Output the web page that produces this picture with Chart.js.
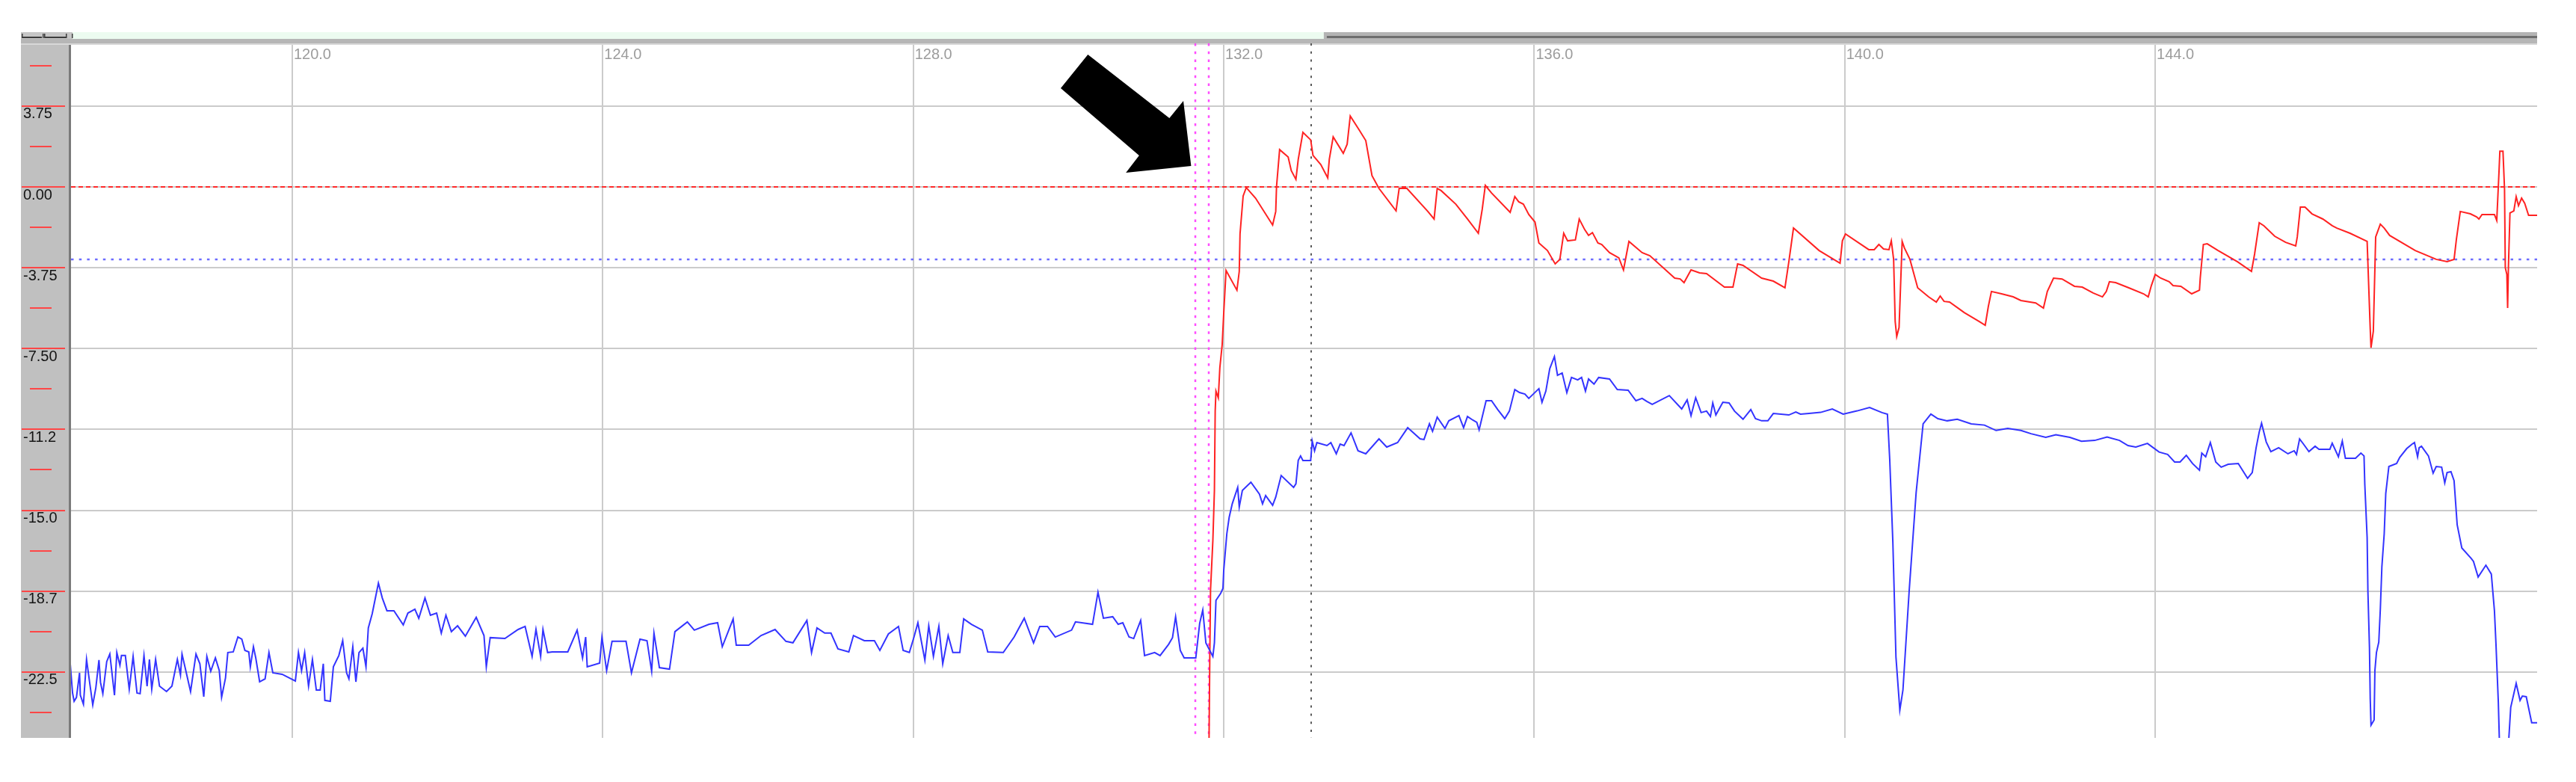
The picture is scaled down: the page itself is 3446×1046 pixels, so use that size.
<!DOCTYPE html>
<html>
<head>
<meta charset="utf-8">
<title>Trace</title>
<style>
  html, body { margin: 0; padding: 0; background: #ffffff; }
  #wrap { position: relative; width: 3446px; height: 1046px; }
  canvas { display: block; }
</style>
</head>
<body>
<div id="wrap"><canvas id="trace" width="3446" height="1046"></canvas></div>
<script src="https://cdn.jsdelivr.net/npm/chart.js@4.4.1/dist/chart.umd.min.js"></script>
<script>
'use strict';

// ─────────────────────────────────────────────
// 1. DATA
// ─────────────────────────────────────────────
const xTicks      = [120, 124, 128, 132, 136, 140, 144];
const yTicks      = [3.75, 0, -3.75, -7.5, -11.25, -15, -18.75, -22.5];
const yTickLabels = ['3.75', '0.00', '-3.75', '-7.50', '-11.2', '-15.0', '-18.7', '-22.5'];
const yMinorTicks = [5.625, 1.875, -1.875, -5.625, -9.375, -13.125, -16.875, -20.625, -24.375];

const xRange = [117.15, 148.92];
const yRange = [-25.56, 6.59];

const redLevel    = 0;               // red dashed reference
const blueLevel   = -3.36;           // blue dotted reference
const cursorLines = [131.63, 131.81]; // magenta cursors
const markerLine  = 133.13;          // grey dotted marker

// blue trace [x, y]
const bluePoints = [
  [117.14,-22.12],[117.17,-23.48],[117.19,-23.86],[117.22,-23.68],[117.26,-22.54],[117.27,-23.58],
  [117.31,-24.00],[117.35,-21.92],[117.39,-22.99],[117.43,-24.03],[117.47,-23.23],[117.51,-21.95],
  [117.53,-22.99],[117.56,-23.51],[117.61,-22.02],[117.65,-21.67],[117.71,-23.58],[117.74,-21.60],
  [117.78,-22.19],[117.80,-21.74],[117.85,-21.74],[117.90,-23.30],[117.95,-21.78],[118.00,-23.48],
  [118.04,-23.51],[118.09,-21.74],[118.13,-23.16],[118.16,-21.92],[118.19,-23.30],[118.24,-21.92],
  [118.29,-23.16],[118.38,-23.41],[118.45,-23.16],[118.52,-21.92],[118.56,-22.64],[118.58,-21.67],
  [118.62,-22.30],[118.69,-23.41],[118.76,-21.67],[118.81,-22.12],[118.86,-23.65],[118.90,-21.78],
  [118.95,-22.47],[119.01,-21.85],[119.06,-22.44],[119.09,-23.68],[119.14,-22.78],[119.17,-21.60],
  [119.24,-21.57],[119.30,-20.88],[119.35,-20.98],[119.39,-21.50],[119.44,-21.57],[119.46,-22.26],
  [119.50,-21.33],[119.53,-21.85],[119.58,-22.96],[119.65,-22.82],[119.70,-21.60],[119.75,-22.54],
  [119.87,-22.61],[120.04,-22.92],[120.08,-21.60],[120.12,-22.44],[120.16,-21.60],[120.21,-23.16],
  [120.26,-21.92],[120.31,-23.34],[120.36,-23.34],[120.40,-22.12],[120.42,-23.82],[120.49,-23.86],
  [120.53,-22.26],[120.60,-21.74],[120.65,-21.05],[120.70,-22.54],[120.73,-22.82],[120.78,-21.33],
  [120.82,-22.96],[120.86,-21.60],[120.91,-21.40],[120.95,-22.26],[120.98,-20.46],[121.03,-19.80],
  [121.11,-18.38],[121.16,-19.07],[121.22,-19.66],[121.31,-19.66],[121.43,-20.32],[121.49,-19.77],
  [121.58,-19.59],[121.63,-20.01],[121.71,-19.07],[121.78,-19.87],[121.86,-19.77],[121.92,-20.70],
  [121.98,-19.87],[122.05,-20.63],[122.13,-20.36],[122.23,-20.84],[122.37,-19.97],[122.47,-20.81],
  [122.50,-22.26],[122.55,-20.91],[122.74,-20.95],[122.91,-20.53],[123.00,-20.39],[123.09,-21.78],
  [123.14,-20.53],[123.20,-21.78],[123.23,-20.53],[123.29,-21.60],[123.35,-21.57],[123.55,-21.57],
  [123.67,-20.56],[123.74,-21.85],[123.78,-20.88],[123.80,-22.26],[123.96,-22.09],[123.99,-20.88],
  [124.05,-22.44],[124.12,-21.08],[124.30,-21.08],[124.37,-22.54],[124.48,-20.98],[124.57,-21.05],
  [124.63,-22.47],[124.66,-20.70],[124.73,-22.30],[124.86,-22.37],[124.93,-20.63],[125.09,-20.18],
  [125.18,-20.56],[125.37,-20.29],[125.48,-20.22],[125.54,-21.33],[125.68,-20.04],[125.72,-21.26],
  [125.88,-21.26],[126.04,-20.81],[126.22,-20.53],[126.36,-21.08],[126.45,-21.15],[126.63,-20.11],
  [126.69,-21.60],[126.76,-20.46],[126.86,-20.70],[126.94,-20.70],[127.03,-21.43],[127.17,-21.57],
  [127.23,-20.81],[127.37,-21.05],[127.50,-21.05],[127.57,-21.50],[127.68,-20.74],[127.81,-20.39],
  [127.87,-21.50],[127.95,-21.60],[128.01,-20.88],[128.06,-20.22],[128.15,-21.95],[128.20,-20.36],
  [128.26,-21.78],[128.33,-20.39],[128.38,-22.12],[128.45,-20.81],[128.51,-21.60],[128.60,-21.60],
  [128.65,-20.04],[128.75,-20.29],[128.89,-20.56],[128.96,-21.57],[129.16,-21.60],[129.30,-20.88],
  [129.43,-20.01],[129.55,-21.15],[129.63,-20.39],[129.73,-20.39],[129.83,-20.88],[130.04,-20.56],
  [130.09,-20.18],[130.31,-20.29],[130.38,-18.80],[130.45,-20.01],[130.57,-19.94],[130.64,-20.29],
  [130.70,-20.22],[130.78,-20.88],[130.84,-20.95],[130.93,-20.11],[130.98,-21.74],[131.11,-21.60],
  [131.18,-21.74],[131.29,-21.22],[131.34,-20.91],[131.38,-19.94],[131.44,-21.50],[131.49,-21.85],
  [131.64,-21.85],[131.69,-20.25],[131.73,-19.63],[131.77,-21.15],[131.84,-21.64],[131.86,-21.78],
  [131.88,-21.15],[131.90,-19.18],[131.96,-18.86],[131.99,-18.62],[132.00,-17.79],[132.04,-16.09],
  [132.07,-15.33],[132.11,-14.70],[132.18,-13.94],[132.20,-14.84],[132.24,-14.08],[132.35,-13.70],
  [132.46,-14.25],[132.50,-14.70],[132.54,-14.32],[132.63,-14.77],[132.67,-14.39],[132.74,-13.39],
  [132.90,-13.94],[132.93,-13.77],[132.96,-12.69],[132.99,-12.48],[133.02,-12.69],[133.12,-12.69],
  [133.14,-11.79],[133.17,-12.24],[133.20,-11.86],[133.33,-12.00],[133.38,-11.86],[133.45,-12.38],
  [133.50,-11.93],[133.55,-12.00],[133.64,-11.41],[133.73,-12.24],[133.83,-12.38],[134.00,-11.69],
  [134.10,-12.07],[134.24,-11.86],[134.37,-11.17],[134.53,-11.69],[134.58,-11.72],[134.65,-10.99],
  [134.69,-11.34],[134.75,-10.68],[134.85,-11.20],[134.90,-10.85],[135.03,-10.61],[135.09,-11.17],
  [135.14,-10.65],[135.21,-10.82],[135.26,-10.92],[135.29,-11.27],[135.38,-9.92],[135.45,-9.92],
  [135.53,-10.33],[135.62,-10.75],[135.68,-10.40],[135.75,-9.40],[135.81,-9.54],[135.88,-9.61],
  [135.93,-9.81],[136.06,-9.36],[136.10,-9.99],[136.15,-9.47],[136.20,-8.43],[136.26,-7.87],
  [136.30,-8.74],[136.36,-8.63],[136.42,-9.54],[136.48,-8.84],[136.56,-8.95],[136.61,-8.84],
  [136.66,-9.47],[136.70,-8.91],[136.77,-9.15],[136.83,-8.84],[136.97,-8.91],[137.07,-9.40],
  [137.21,-9.43],[137.31,-9.92],[137.39,-9.81],[137.45,-9.95],[137.52,-10.09],[137.74,-9.68],
  [137.90,-10.30],[137.97,-9.88],[138.02,-10.61],[138.08,-9.78],[138.15,-10.47],[138.22,-10.40],
  [138.27,-10.65],[138.30,-10.02],[138.34,-10.58],[138.43,-9.99],[138.51,-10.02],[138.58,-10.40],
  [138.69,-10.78],[138.79,-10.33],[138.85,-10.75],[138.93,-10.85],[139.01,-10.85],[139.08,-10.51],
  [139.28,-10.58],[139.37,-10.44],[139.43,-10.54],[139.54,-10.51],[139.69,-10.46],[139.84,-10.30],
  [139.98,-10.54],[140.16,-10.39],[140.32,-10.23],[140.48,-10.47],[140.55,-10.54],[140.58,-12.66],
  [140.62,-16.47],[140.66,-21.81],[140.71,-24.27],[140.75,-23.34],[140.83,-18.76],[140.92,-14.18],
  [141.01,-10.99],[141.11,-10.54],[141.20,-10.75],[141.32,-10.85],[141.45,-10.78],[141.63,-10.99],
  [141.80,-11.05],[141.95,-11.30],[142.10,-11.20],[142.27,-11.30],[142.40,-11.45],[142.59,-11.62],
  [142.72,-11.50],[142.90,-11.62],[143.05,-11.80],[143.22,-11.76],[143.38,-11.60],[143.54,-11.76],
  [143.65,-12.00],[143.75,-12.07],[143.90,-11.90],[144.05,-12.30],[144.16,-12.41],[144.25,-12.76],
  [144.32,-12.76],[144.40,-12.45],[144.48,-12.83],[144.57,-13.14],[144.60,-12.35],[144.65,-12.52],
  [144.71,-11.86],[144.78,-12.76],[144.85,-13.00],[144.94,-12.87],[145.07,-12.83],[145.19,-13.52],
  [145.25,-13.25],[145.30,-12.10],[145.34,-11.37],[145.37,-10.96],[145.43,-11.83],[145.49,-12.28],
  [145.59,-12.10],[145.71,-12.38],[145.79,-12.24],[145.82,-12.41],[145.86,-11.69],[145.91,-11.93],
  [145.98,-12.28],[146.06,-12.03],[146.11,-12.17],[146.25,-12.17],[146.28,-11.89],[146.36,-12.52],
  [146.41,-11.79],[146.45,-12.59],[146.58,-12.59],[146.65,-12.35],[146.69,-12.48],[146.70,-13.80],
  [146.73,-16.26],[146.74,-18.76],[146.76,-21.36],[146.77,-23.75],[146.78,-24.97],[146.82,-24.73],
  [146.83,-22.44],[146.85,-21.60],[146.88,-21.12],[146.90,-19.59],[146.92,-17.62],[146.95,-16.09],
  [146.97,-14.22],[147.01,-12.97],[147.11,-12.83],[147.15,-12.55],[147.24,-12.14],[147.31,-11.93],
  [147.34,-11.86],[147.38,-12.52],[147.40,-12.10],[147.43,-12.03],[147.52,-12.48],[147.58,-13.28],
  [147.62,-12.97],[147.69,-13.00],[147.73,-13.73],[147.76,-13.25],[147.81,-13.21],[147.85,-13.63],
  [147.89,-15.67],[147.95,-16.75],[148.07,-17.23],[148.10,-17.37],[148.16,-18.10],[148.26,-17.55],
  [148.33,-17.96],[148.37,-19.66],[148.39,-21.22],[148.42,-23.89],[148.44,-26.50],[148.54,-26.50],
  [148.58,-24.14],[148.65,-23.03],[148.70,-23.82],[148.73,-23.62],[148.78,-23.65],[148.85,-24.86],
  [148.92,-24.86],
];

// red trace [x, y]
const redPoints = [
  [131.81,-26.00],[131.82,-21.95],[131.83,-18.69],[131.86,-16.40],[131.88,-14.08],[131.89,-10.40],
  [131.90,-9.47],[131.93,-9.78],[131.95,-8.39],[131.98,-7.32],[132.00,-5.86],[132.03,-3.88],
  [132.17,-4.79],[132.20,-3.92],[132.21,-2.18],[132.25,-0.42],[132.29,-0.03],[132.41,-0.52],
  [132.63,-1.77],[132.67,-1.14],[132.68,0.00],[132.72,1.73],[132.83,1.39],[132.87,0.76],
  [132.93,0.35],[132.96,1.28],[133.02,2.53],[133.12,2.18],[133.15,1.46],[133.25,1.04],
  [133.34,0.42],[133.36,1.28],[133.41,2.32],[133.54,1.56],[133.59,1.98],[133.63,3.29],
  [133.74,2.67],[133.83,2.15],[133.91,0.52],[134.00,-0.07],[134.22,-1.11],[134.26,-0.07],
  [134.36,-0.07],[134.63,-1.14],[134.71,-1.49],[134.75,-0.07],[134.80,-0.17],[134.99,-0.80],
  [135.14,-1.49],[135.28,-2.15],[135.33,-1.04],[135.37,0.07],[135.45,-0.28],[135.69,-1.18],
  [135.75,-0.45],[135.80,-0.69],[135.86,-0.80],[135.93,-1.28],[136.01,-1.63],[136.06,-2.60],
  [136.17,-2.95],[136.27,-3.57],[136.33,-3.36],[136.38,-2.15],[136.43,-2.50],[136.53,-2.46],
  [136.58,-1.49],[136.65,-1.98],[136.70,-2.25],[136.75,-2.12],[136.82,-2.60],[136.87,-2.67],
  [136.97,-3.05],[137.09,-3.29],[137.15,-3.85],[137.22,-2.53],[137.39,-3.05],[137.49,-3.19],
  [137.81,-4.23],[137.88,-4.27],[137.93,-4.44],[138.02,-3.85],[138.13,-3.99],[138.22,-4.02],
  [138.45,-4.65],[138.56,-4.65],[138.62,-3.57],[138.69,-3.64],[138.93,-4.23],[139.08,-4.37],
  [139.23,-4.68],[139.28,-3.47],[139.34,-1.91],[139.67,-2.95],[139.94,-3.54],[139.97,-2.50],
  [140.01,-2.18],[140.31,-2.91],[140.38,-2.91],[140.44,-2.67],[140.50,-2.88],[140.57,-2.91],
  [140.60,-2.50],[140.63,-3.36],[140.65,-6.24],[140.67,-6.94],[140.70,-6.52],[140.73,-3.54],
  [140.74,-2.53],[140.77,-2.84],[140.84,-3.36],[140.94,-4.68],[141.08,-5.10],[141.18,-5.34],
  [141.23,-5.06],[141.28,-5.31],[141.35,-5.34],[141.47,-5.65],[141.54,-5.83],[141.73,-6.24],
  [141.81,-6.42],[141.85,-5.55],[141.89,-4.85],[142.02,-4.96],[142.17,-5.10],[142.27,-5.27],
  [142.46,-5.38],[142.56,-5.62],[142.61,-4.85],[142.69,-4.23],[142.80,-4.27],[142.96,-4.61],
  [143.06,-4.65],[143.20,-4.92],[143.32,-5.10],[143.37,-4.85],[143.41,-4.40],[143.49,-4.44],
  [143.66,-4.68],[143.85,-4.96],[143.91,-5.10],[143.95,-4.58],[144.00,-4.06],[144.07,-4.23],
  [144.18,-4.40],[144.23,-4.58],[144.33,-4.61],[144.47,-4.96],[144.57,-4.79],[144.58,-4.23],
  [144.62,-2.67],[144.67,-2.64],[144.81,-2.95],[145.06,-3.47],[145.24,-3.92],[145.28,-3.12],
  [145.34,-1.66],[145.40,-1.80],[145.54,-2.29],[145.68,-2.57],[145.81,-2.74],[145.83,-2.32],
  [145.87,-0.94],[145.93,-0.94],[146.02,-1.25],[146.16,-1.49],[146.28,-1.80],[146.34,-1.91],
  [146.51,-2.15],[146.73,-2.53],[146.77,-6.59],[146.78,-7.46],[146.81,-6.69],[146.84,-2.32],
  [146.90,-1.73],[146.95,-1.91],[147.02,-2.25],[147.35,-2.95],[147.62,-3.36],[147.76,-3.47],
  [147.85,-3.36],[147.88,-2.43],[147.93,-1.14],[148.06,-1.25],[148.14,-1.39],[148.17,-1.49],
  [148.21,-1.28],[148.37,-1.28],[148.40,-1.56],[148.43,0.80],[148.44,1.66],[148.48,1.66],
  [148.50,-0.10],[148.51,-3.75],[148.53,-4.06],[148.54,-5.62],[148.55,-3.75],[148.57,-1.21],
  [148.62,-1.11],[148.65,-0.45],[148.68,-0.87],[148.72,-0.52],[148.76,-0.76],[148.81,-1.32],
  [148.92,-1.32],
];

// ─────────────────────────────────────────────
// 2. CHROME PLUGIN – axis panel, ruler, cursors, arrow
// ─────────────────────────────────────────────
// callout arrow outline, in data units
const arrowShape = [
  [130.25, 6.14], [131.30, 3.19], [131.48, 3.99], [131.58, 0.97],
  [130.74, 0.66], [130.91, 1.46], [129.90, 4.58],
];

function hLine(ctx, x0, x1, y) {
  ctx.beginPath(); ctx.moveTo(x0, y); ctx.lineTo(x1, y); ctx.stroke();
}
function vLine(ctx, x, y0, y1) {
  ctx.beginPath(); ctx.moveTo(x, y0); ctx.lineTo(x, y1); ctx.stroke();
}

const chrome = {
  id: 'chrome',
  beforeDraw(chart) {
    const { ctx, chartArea: a, scales: { y } } = chart;
    const panelL = y.left - 3;
    ctx.save();

    // grey y-axis panel + border
    ctx.fillStyle = '#c0c0c0';
    ctx.fillRect(panelL, a.top, a.left - 3 - panelL, a.bottom - a.top);
    ctx.fillStyle = '#7a7a7a';
    ctx.fillRect(a.left - 3, a.top, 3, a.bottom - a.top);

    // top scroll strip
    const barTop = a.top - 17;
    const thumbL = a.left + (a.right - a.left) * 0.508;
    ctx.fillStyle = '#b6b6b6';
    ctx.fillRect(panelL, a.top - 8, a.right - panelL, 6);
    ctx.fillStyle = '#d8d8d8';
    ctx.fillRect(panelL, a.top - 2, a.right - panelL, 2);
    ctx.fillStyle = '#c6c6c6';
    ctx.fillRect(panelL, barTop, a.left + 2 - panelL, 9);
    ctx.fillStyle = '#ecfbf0';
    ctx.fillRect(a.left + 2, barTop, thumbL - a.left - 2, 9);
    ctx.fillStyle = '#b4b4b4';
    ctx.fillRect(thumbL, barTop, a.right - thumbL, 9);
    ctx.fillStyle = '#6e6e6e';
    ctx.fillRect(thumbL + 4, barTop + 5, a.right - thumbL - 4, 3);

    // little ruler marks in the corner
    ctx.fillStyle = '#3c3c3c';
    ctx.fillRect(panelL + 1, barTop + 6, 27, 2);
    ctx.fillRect(panelL + 32, barTop + 6, 28, 2);
    [panelL + 1, panelL + 29, panelL + 31, panelL + 60, a.left + 1].forEach(px => {
      ctx.fillRect(px, barTop + 2, 1.5, 6);
    });
    ctx.restore();
  },

  beforeDatasetsDraw(chart) {
    const { ctx, chartArea: a, scales: { x, y } } = chart;
    const panelL = y.left - 3;
    ctx.save();

    // red tick marks on the panel
    ctx.strokeStyle = '#ff4646';
    ctx.lineWidth = 2;
    yTicks.forEach(v => hLine(ctx, panelL + 1, a.left - 8, Math.round(y.getPixelForValue(v))));
    yMinorTicks.forEach(v => hLine(ctx, panelL + 12, panelL + 41, Math.round(y.getPixelForValue(v))));

    // x tick labels, inside the plot at the top
    ctx.fillStyle = '#9c9c9c';
    ctx.font = '20px "Liberation Sans", Arial, sans-serif';
    ctx.textBaseline = 'top';
    ctx.textAlign = 'left';
    xTicks.forEach(v => ctx.fillText(v.toFixed(1), x.getPixelForValue(v) + 2, a.top + 3));

    // reference levels
    ctx.lineWidth = 2;
    ctx.strokeStyle = '#ff2a2a';
    ctx.setLineDash([6, 4]);
    hLine(ctx, a.left, a.right, Math.round(y.getPixelForValue(redLevel)));
    ctx.strokeStyle = '#6c6cff';
    ctx.lineWidth = 2.5;
    ctx.setLineDash([3.5, 7.2]);
    hLine(ctx, a.left, a.right, Math.round(y.getPixelForValue(blueLevel)));

    // cursors
    ctx.strokeStyle = '#ff4cff';
    cursorLines.forEach(v => vLine(ctx, Math.round(x.getPixelForValue(v)), a.top - 2, a.bottom));
    ctx.strokeStyle = '#5a5a5a';
    ctx.lineWidth = 2;
    ctx.setLineDash([3, 7.8]);
    vLine(ctx, Math.round(x.getPixelForValue(markerLine)), a.top - 2, a.bottom);
    ctx.restore();
  },

  afterDatasetsDraw(chart) {
    const { ctx, scales: { x, y } } = chart;
    ctx.save();
    ctx.fillStyle = '#000000';
    ctx.beginPath();
    arrowShape.forEach(([vx, vy], i) => {
      const px = x.getPixelForValue(vx), py = y.getPixelForValue(vy);
      if (i === 0) ctx.moveTo(px, py); else ctx.lineTo(px, py);
    });
    ctx.closePath();
    ctx.fill();
    ctx.restore();
  },
};

// ─────────────────────────────────────────────
// 3. CHART
// ─────────────────────────────────────────────
const toXY = (pts) => pts.map(([x, y]) => ({ x, y }));

new Chart(document.getElementById('trace').getContext('2d'), {
  type: 'scatter',
  data: {
    datasets: [
      {
        label: 'blue',
        data: toXY(bluePoints),
        showLine: true,
        borderColor: '#3434ff',
        borderWidth: 2,
        pointRadius: 0,
        tension: 0,
      },
      {
        label: 'red',
        data: toXY(redPoints),
        showLine: true,
        borderColor: '#ff2222',
        borderWidth: 2,
        pointRadius: 0,
        tension: 0,
      },
    ],
  },
  options: {
    responsive: false,
    animation: false,
    events: [],
    layout: { padding: { left: 31, top: 60, right: 52, bottom: 59 } },
    plugins: {
      legend: { display: false },
      tooltip: { enabled: false },
    },
    scales: {
      x: {
        type: 'linear',
        min: xRange[0],
        max: xRange[1],
        afterBuildTicks: (s) => { s.ticks = xTicks.map(v => ({ value: v })); },
        afterFit: (s) => { s.height = 0; },
        ticks: { display: false },
        grid: { color: '#cbcbcb', lineWidth: 2, drawTicks: false },
        border: { display: false },
      },
      y: {
        type: 'linear',
        min: yRange[0],
        max: yRange[1],
        afterBuildTicks: (s) => { s.ticks = yTicks.map(v => ({ value: v })); },
        afterFit: (s) => { s.width = 64; },
        ticks: {
          crossAlign: 'far',
          padding: 0,
          labelOffset: 11,
          color: '#141414',
          font: { family: 'Liberation Sans', size: 20 },
          callback: (v, i) => yTickLabels[i],
        },
        grid: { color: '#cbcbcb', lineWidth: 2, drawTicks: false },
        border: { display: false },
      },
    },
  },
  plugins: [chrome],
});
</script>
</body>
</html>
